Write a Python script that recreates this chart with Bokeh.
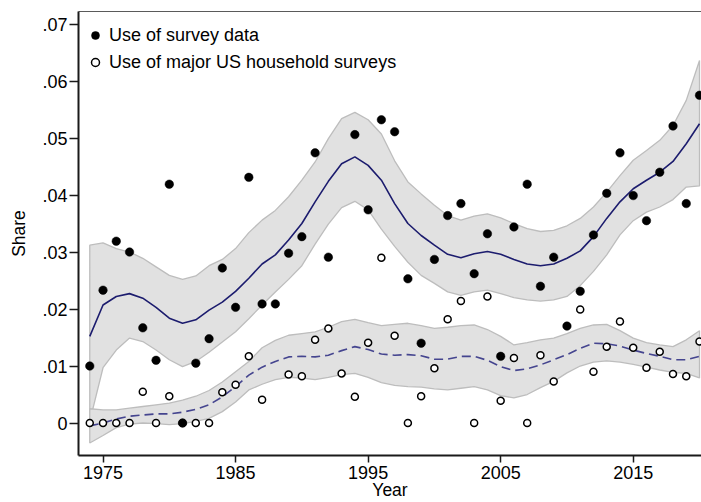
import numpy as np
from bokeh.plotting import figure
from bokeh.models import (Legend, LegendItem, FixedTicker, CustomJSTickFormatter,
                          LinearAxis, Range1d)
from bokeh.embed import file_html
from bokeh.resources import INLINE

nan = float("nan")

years = list(range(1974, 2021))

# Use of survey data (filled dots)
survey = [0.0100, 0.0233, 0.0319, 0.0300, 0.0167, 0.0110, 0.0419, 0.0000, 0.0105, 0.0148,
          0.0272, 0.0203, 0.0431, 0.0209, 0.0209, 0.0298, 0.0327, 0.0474, 0.0291, nan,
          0.0506, 0.0374, 0.0532, 0.0511, 0.0253, 0.0140, 0.0287, 0.0364, 0.0385, 0.0262,
          0.0332, 0.0117, 0.0344, 0.0419, 0.0240, 0.0291, 0.0170, 0.0231, 0.0330, 0.0403,
          0.0474, 0.0399, 0.0355, 0.0440, 0.0521, 0.0385, 0.0575]

# Use of major US household surveys (hollow dots)
major_us = [0.0, 0.0, 0.0, 0.0, 0.0055, 0.0, 0.0047, 0.0, 0.0, 0.0,
            0.0054, 0.0067, 0.0117, 0.0041, nan, 0.0085, 0.0082, 0.0146, 0.0166, 0.0087,
            0.0046, 0.0141, 0.0290, 0.0153, 0.0, 0.0047, 0.0096, 0.0182, 0.0214, 0.0,
            0.0222, 0.0039, 0.0114, 0.0, 0.0119, 0.0073, nan, 0.0199, 0.0090, 0.0134,
            0.0178, 0.0132, 0.0097, 0.0125, 0.0086, 0.0082, 0.0143]

# Smoothed fit for survey data, with confidence band
fit_survey = [0.0152, 0.0207, 0.0222, 0.0227, 0.0219, 0.0203, 0.0184, 0.0175, 0.0181, 0.0198,
              0.0212, 0.0231, 0.0254, 0.0279, 0.0295, 0.0321, 0.0350, 0.0388, 0.0424, 0.0455,
              0.0467, 0.0452, 0.0426, 0.0385, 0.0350, 0.0329, 0.0312, 0.0296, 0.0290, 0.0297,
              0.0301, 0.0296, 0.0287, 0.0279, 0.0276, 0.0279, 0.0289, 0.0302, 0.0327, 0.0359,
              0.0388, 0.0411, 0.0426, 0.0440, 0.0459, 0.0490, 0.0525]
fit_survey_hi = [0.0312, 0.0316, 0.0306, 0.0300, 0.0289, 0.0274, 0.0259, 0.0252, 0.0258, 0.0276,
                 0.0287, 0.0306, 0.0334, 0.0356, 0.0373, 0.0397, 0.0426, 0.0458, 0.0499, 0.0534,
                 0.0545, 0.0532, 0.0507, 0.0460, 0.0423, 0.0402, 0.0382, 0.0364, 0.0356, 0.0363,
                 0.0367, 0.0360, 0.0350, 0.0341, 0.0336, 0.0338, 0.0346, 0.0359, 0.0379, 0.0405,
                 0.0434, 0.0461, 0.0478, 0.0496, 0.0522, 0.0566, 0.0636]
fit_survey_lo = [0.0003, 0.0097, 0.0128, 0.0149, 0.0143, 0.0128, 0.0111, 0.0099, 0.0108, 0.0124,
                 0.0142, 0.0160, 0.0183, 0.0207, 0.0230, 0.0252, 0.0276, 0.0314, 0.0349, 0.0378,
                 0.0389, 0.0374, 0.0340, 0.0310, 0.0282, 0.0259, 0.0245, 0.0230, 0.0224, 0.0230,
                 0.0233, 0.0227, 0.0220, 0.0216, 0.0214, 0.0216, 0.0222, 0.0241, 0.0266, 0.0295,
                 0.0330, 0.0355, 0.0370, 0.0379, 0.0392, 0.0414, 0.0416]

# Smoothed fit for major US household surveys, with confidence band
fit_major = [-0.0005, 0.0000, 0.0007, 0.0012, 0.0014, 0.0016, 0.0016, 0.0019, 0.0024, 0.0032,
             0.0046, 0.0064, 0.0084, 0.0098, 0.0108, 0.0116, 0.0117, 0.0116, 0.0119, 0.0127,
             0.0134, 0.0129, 0.0121, 0.0119, 0.0120, 0.0118, 0.0112, 0.0112, 0.0117, 0.0117,
             0.0110, 0.0099, 0.0092, 0.0095, 0.0102, 0.0111, 0.0120, 0.0131, 0.0140, 0.0139,
             0.0135, 0.0128, 0.0122, 0.0117, 0.0111, 0.0111, 0.0117]
fit_major_hi = [0.0025, 0.0023, 0.0023, 0.0026, 0.0029, 0.0032, 0.0035, 0.0040, 0.0047, 0.0057,
                0.0072, 0.0090, 0.0108, 0.0132, 0.0145, 0.0154, 0.0157, 0.0160, 0.0168, 0.0178,
                0.0182, 0.0176, 0.0171, 0.0173, 0.0175, 0.0171, 0.0166, 0.0168, 0.0171, 0.0172,
                0.0164, 0.0152, 0.0137, 0.0141, 0.0146, 0.0149, 0.0157, 0.0166, 0.0172, 0.0173,
                0.0162, 0.0149, 0.0141, 0.0137, 0.0134, 0.0146, 0.0162]
fit_major_lo = [-0.0035, -0.0022, -0.0008, -0.0002, 0.0000, -0.0001, -0.0003, -0.0001, 0.0003, 0.0008,
                0.0020, 0.0037, 0.0058, 0.0068, 0.0076, 0.0080, 0.0079, 0.0076, 0.0080, 0.0085,
                0.0087, 0.0080, 0.0071, 0.0066, 0.0064, 0.0063, 0.0060, 0.0058, 0.0061, 0.0064,
                0.0058, 0.0048, 0.0044, 0.0050, 0.0062, 0.0073, 0.0088, 0.0100, 0.0107, 0.0109,
                0.0107, 0.0103, 0.0098, 0.0093, 0.0089, 0.0087, 0.0079]

x_ticks = [1975, 1985, 1995, 2005, 2015]
y_ticks = [0.0, 0.01, 0.02, 0.03, 0.04, 0.05, 0.06, 0.07]
y_tick_labels = ["0", ".01", ".02", ".03", ".04", ".05", ".06", ".07"]

FONT = "Liberation Sans"
BAND_FILL = "#e1e1e1"
BAND_LINE = "#bdbdbd"

p = figure(width=701, height=502, output_backend="svg", toolbar_location=None,
           x_range=Range1d(1973.15, 2020.15), y_range=Range1d(-0.0057, 0.0722),
           min_border_left=78, min_border_right=0, min_border_top=11, min_border_bottom=0,
           background_fill_color="white", border_fill_color="white")
p.outline_line_color = None
p.xgrid.visible = False
p.ygrid.visible = False

# confidence bands
p.patch(years + years[::-1], fit_survey_hi + fit_survey_lo[::-1],
        fill_color=BAND_FILL, line_color=BAND_LINE, line_width=1.3)
p.patch(years + years[::-1], fit_major_hi + fit_major_lo[::-1],
        fill_color=BAND_FILL, line_color=BAND_LINE, line_width=1.3)

# fitted lines
p.line(years, fit_survey, line_color="#1c1c6e", line_width=1.6)
p.line(years, fit_major, line_color="#45458f", line_width=1.6, line_dash="9 5")

# points
r_open = p.scatter(years, major_us, size=7, marker="circle", fill_color="white",
                   line_color="black", line_width=1.5)
r_fill = p.scatter(years, survey, size=8.5, marker="circle", fill_color="black",
                   line_color="black", line_width=0.5)

# axes
xa = p.xaxis[0]
xa.ticker = FixedTicker(ticks=x_ticks)
xa.axis_label = "Year"
ya = p.yaxis[0]
ya.ticker = FixedTicker(ticks=y_ticks)
ya.formatter = CustomJSTickFormatter(
    args=dict(tick_values=y_ticks, tick_labels=y_tick_labels),
    code="const i = tick_values.findIndex(t => Math.abs(t - tick) < 1e-9); return i >= 0 ? tick_labels[i] : '';")
ya.axis_label = "Share"

for ax in (xa, ya):
    ax.axis_line_color = "#1a1a1a"
    ax.axis_line_width = 2
    ax.major_tick_line_color = "#1a1a1a"
    ax.major_tick_line_width = 1.5
    ax.major_tick_in = 0
    ax.minor_tick_line_color = None
    ax.major_label_text_font = FONT
    ax.major_label_text_font_size = "18px"
    ax.major_label_text_color = "black"
    ax.axis_label_text_font = FONT
    ax.axis_label_text_font_size = "17.5px"
    ax.axis_label_text_font_style = "normal"
    ax.axis_label_text_color = "black"

xa.major_tick_out = 7
xa.major_label_standoff = 3
xa.axis_label_standoff = -2
ya.major_tick_out = 9
ya.major_label_standoff = 2
ya.axis_label_standoff = 10
ya.major_label_orientation = "horizontal"

top = LinearAxis(ticker=FixedTicker(ticks=[]), axis_line_color="#5a5a5a", axis_line_width=1,
                 major_tick_line_color=None, minor_tick_line_color=None,
                 major_label_text_font_size="0px", major_tick_out=0, major_label_standoff=0)
p.add_layout(top, "above")

# legend placed at top-left of the frame (screen units from the frame's bottom-left)
legend = Legend(items=[LegendItem(label="Use of survey data", renderers=[r_fill]),
                       LegendItem(label="Use of major US household surveys", renderers=[r_open])],
                location=(7, 382), border_line_color=None, background_fill_alpha=0,
                margin=0, padding=0, spacing=5, glyph_width=20, glyph_height=22,
                label_height=22, label_standoff=4, label_text_font=FONT,
                label_text_font_size="18px", label_text_color="black")
p.add_layout(legend)

open("out.html", "w").write(file_html(p, INLINE))
